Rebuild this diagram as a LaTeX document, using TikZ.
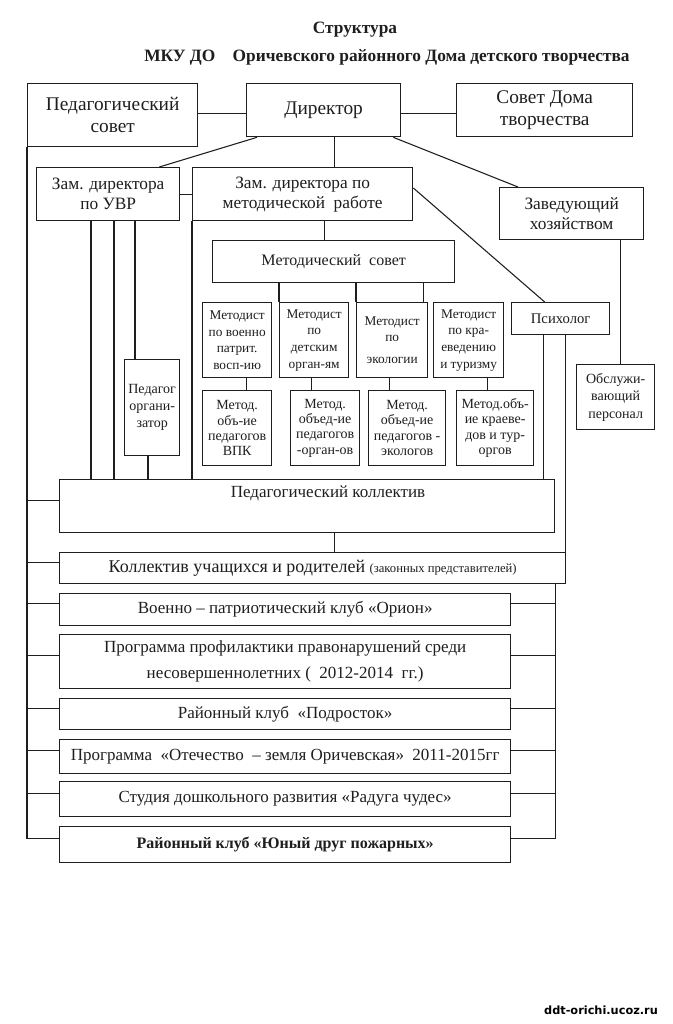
\documentclass[tikz,border=0pt]{standalone}
\usepackage{fontspec}
\setmainfont{Liberation Serif}
\newfontfamily\wmfont{DejaVu Sans}
\usetikzlibrary{calc}
\definecolor{ink}{HTML}{1E1E1E}
\newcommand\fA{\fontsize{14.5}{16.5}\selectfont}
\newcommand\fB{\fontsize{13}{15}\selectfont}
\newcommand\fC{\fontsize{12}{14}\selectfont}
\newcommand\fD{\fontsize{10}{12.5}\selectfont}
\newcommand\fE{\fontsize{11}{13}\selectfont}
\newcommand\fF{\fontsize{10.5}{11.6}\selectfont}
\newcommand\fG{\fontsize{10.5}{12.8}\selectfont}
\newcommand\fH{\fontsize{10.5}{13}\selectfont}
\newcommand\fL{\fontsize{12.75}{15}\selectfont}
\newcommand\fT{\fontsize{13}{15}\selectfont\bfseries}
\newcommand\mkbox[7]{%
  \node[bx,#6,minimum width={(#4-#2)*0.75pt},minimum height={(#5-#3)*0.75pt}] (#1) at (#2,#3) {#7};}
\tikzset{
  bx/.style={draw=ink, line width=1pt, inner sep=0pt, align=center, anchor=north west, text=ink},
  ln/.style={draw=ink, line width=0.8pt},
  txt/.style={inner sep=0pt, text=ink},
}
\begin{document}
\begin{tikzpicture}[x=0.75pt,y=-0.75pt]
\fill[white] (0,0) rectangle (672,1024);
\useasboundingbox (0,0) rectangle (672,1024);
% title
\node[txt,font=\fT,anchor=base] (t1) at (355,33.5) {Структура};
\node[txt,font=\fT,anchor=base] (t2) at (387,62) {МКУ ДО\hspace{1em}Оричевского районного Дома детского творчества};
% top row
\mkbox{ps}{27}{83}{197}{146}{font=\fA}{Педагогический\\совет}
\mkbox{dir}{246}{83}{400}{136}{font=\fA}{Директор}
\mkbox{sd}{456}{83}{632}{136}{font=\fA}{Совет Дома\\творчества}
% second row
\mkbox{zuvr}{36}{167}{179}{220}{font=\fB}{Зам. директора\\по УВР}
\mkbox{zm}{192}{167}{412}{220}{font=\fB}{Зам. директора по\\методической\ \ работе}
\mkbox{zav}{499}{187}{643}{239}{font=\fB}{Заведующий\\хозяйством}
\mkbox{ms}{212}{240}{454}{282}{font=\fC}{Методический\ \ совет}
% metodists
\mkbox{m1}{202}{302}{271}{377}{font=\fD}{Методист\\по военно\\патрит.\\восп-ию}
\mkbox{m2}{279}{302}{348}{377}{font=\fD}{Методист\\по\\детским\\орган-ям}
\mkbox{m3}{356}{302}{427}{377}{font=\fD}{Методист\\по\\[4pt]экологии}
\mkbox{m4}{433}{302}{503}{377}{font=\fD}{Методист\\по кра-\\еведению\\и туризму}
\mkbox{psy}{511}{302}{609}{334}{font=\fE}{Психолог}
% associations
\mkbox{a1}{202}{390}{271}{465}{font=\fF}{Метод.\\объ-ие\\педагогов\\ВПК}
\mkbox{a2}{290}{390}{359}{465}{font=\fF}{Метод.\\объед-ие\\педагогов\\-орган-ов}
\mkbox{a3}{368}{390}{445}{465}{font=\fF}{Метод.\\объед-ие\\педагогов -\\экологов}
\mkbox{a4}{456}{390}{533}{465}{font=\fF}{Метод.объ-\\ие краеве-\\дов и тур-\\оргов}
\mkbox{porg}{124}{359}{179}{455}{font=\fG}{Педагог\\органи-\\затор}
\mkbox{obs}{576}{364}{654}{429}{font=\fH}{Обслужи-\\вающий\\персонал}
% lower boxes
\mkbox{pk}{59}{479}{554}{532}{}{}
\node[txt,font=\fL] (pkt) at (328,493) {Педагогический коллектив};
\mkbox{kol}{59}{552}{565}{583}{font=\fontsize{13.5}{15}\selectfont}{Коллектив учащихся и родителей {\fontsize{9.5}{11}\selectfont(законных представителей)}}
\mkbox{voen}{59}{593}{510}{625}{font=\fL}{Военно – патриотический клуб «Орион»}
\mkbox{prog}{59}{634}{510}{688}{font=\fontsize{12.75}{19.5}\selectfont}{Программа профилактики правонарушений среди\\несовершеннолетних (\ \ 2012-2014\ \ гг.)}
\mkbox{podr}{59}{698}{510}{729}{font=\fL}{Районный клуб\ \ «Подросток»}
\mkbox{otech}{59}{739}{510}{773}{font=\fL}{Программа\ \ «Отечество\ \ – земля Оричевская»\ \ 2011-2015гг}
\mkbox{stud}{59}{781}{510}{816}{font=\fL}{Студия дошкольного развития «Радуга чудес»}
\mkbox{yuny}{59}{826}{510}{862}{font=\fontsize{12}{14}\selectfont\bfseries}{Районный клуб «Юный друг пожарных»}
% watermark
\node[txt,font=\wmfont\bfseries\fontsize{8.5}{9}\selectfont,text=black] (wm) at (601,1010) {ddt-orichi.ucoz.ru};

% ---- connectors ----
\draw[ln] ([yshift=1.1pt]ps.east) -- ([yshift=1.1pt]ps.east -| dir.west);
\draw[ln] ([yshift=-2.6pt]dir.east) -- ([yshift=-2.6pt]dir.east -| sd.west);
\draw[ln] ($(dir.south west)+(11,0)$) -- ($(zuvr.north east)+(-21,0)$);
\draw[ln] ($(dir.south east)+(-8,0)$) -- ($(zav.north west)+(19,0)$);
\draw[ln] ([xshift=8.25pt]dir.south) -- ([xshift=8.25pt]dir.south |- zm.north);
\draw[ln] (zuvr.east) -- (zm.west);
\draw[ln] ($(zm.north east)+(0,21)$) -- ($(psy.north)+(-16,0)$);
\draw[ln] ([xshift=16.5pt]zm.south) -- ([xshift=16.5pt]zm.south |- ms.north);
% metod sovet to metodists
\coordinate (m3r) at ($(m3.north east)+(-5,0)$);
\draw[ln] (ms.south -| m2.north west) -- (m2.north west);
\draw[ln] (ms.south -| m3.north west) -- (m3.north west);
\draw[ln] (m3r |- ms.south) -- (m3r);
% metodists to associations
\coordinate (c1) at ($(m1.south)+(9.5,0)$);
\coordinate (c2) at ($(m2.south)+(-2.5,0)$);
\coordinate (c3) at ($(m3.south)+(-2.5,0)$);
\coordinate (c4) at ($(m4.south)+(19,0)$);
\draw[ln] (c1) -- (c1 |- a1.north);
\draw[ln] (c2) -- (c2 |- a2.north);
\draw[ln] (c3) -- (c3 |- a3.north);
\draw[ln] (c4) -- (c4 |- a4.north);
% zam UVR lines
\coordinate (u1) at ($(zuvr.south west)+(55,0)$);
\coordinate (u2) at ($(zuvr.south west)+(78,0)$);
\coordinate (u3) at ($(zuvr.south west)+(99,0)$);
\coordinate (u4) at ($(porg.south west)+(24,0)$);
\draw[ln] (u1) -- (u1 |- pk.north);
\draw[ln] (u2) -- (u2 |- pk.north);
\draw[ln] (u3) -- (u3 |- porg.north);
\draw[ln] (u4) -- (u4 |- pk.north);
\draw[ln] (zm.south west) -- (zm.south west |- pk.north);
% psychologist lines
\coordinate (p1) at ($(psy.south)+(-17,0)$);
\coordinate (p2) at ($(psy.south)+(5,0)$);
\draw[ln] (p1) -- (p1 |- pk.north);
\draw[ln] (p2) -- (p2 |- kol.north);
% zav to obs
\coordinate (z1) at ($(obs.north)+(5,0)$);
\draw[ln] (z1 |- zav.south) -- (z1);
% ped coll to kollektiv
\coordinate (k1) at ($(pk.south)+(27.5,0)$);
\draw[ln] (k1) -- (k1 |- kol.north);
% left bus
\draw[ln] (ps.south west) |- ([yshift=4.5pt]yuny.west);
\foreach \b in {pk,kol,voen,prog,podr,otech,stud}
  \draw[ln] ([yshift=4.5pt]\b.west) -- ([yshift=4.5pt]\b.west -| ps.west);
% right bus
\draw[ln] (kol.south -| pk.east) |- ([yshift=4.5pt]yuny.east);
\foreach \b in {voen,prog,podr,otech,stud}
  \draw[ln] ([yshift=4.5pt]\b.east) -- ([yshift=4.5pt]\b.east -| pk.east);
\end{tikzpicture}
\end{document}
